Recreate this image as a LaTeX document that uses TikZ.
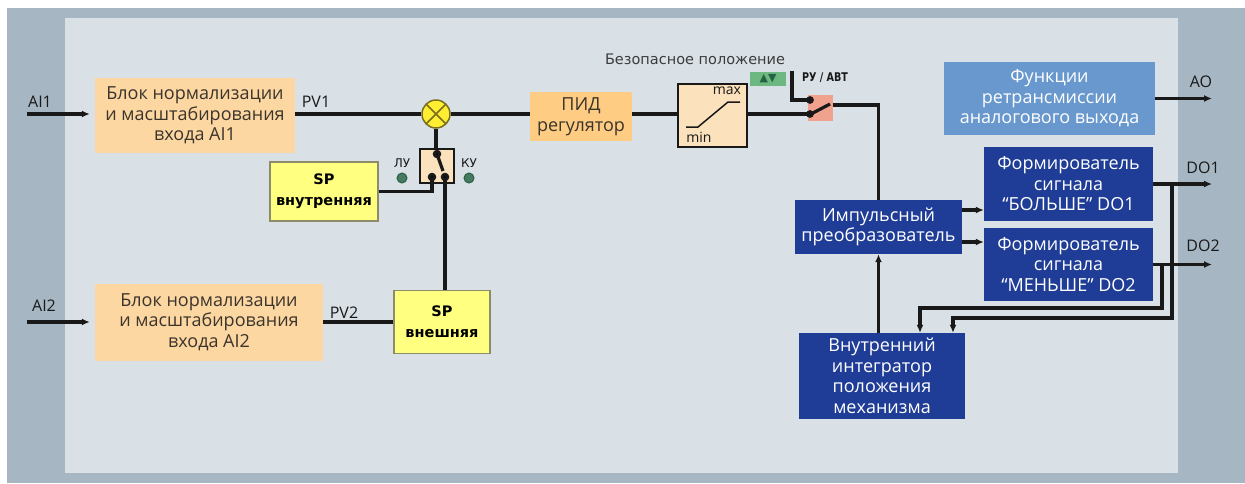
\documentclass[tikz,border=0pt]{standalone}
\usepackage{fontspec}
\setmainfont{Open Sans}
\newfontfamily\tahoma{DejaVu Sans}
\newfontfamily\condfont{DejaVu Sans}[FakeStretch=0.8]
\usetikzlibrary{arrows.meta,positioning}

\definecolor{frame}{RGB}{166,183,195}
\definecolor{panel}{RGB}{217,225,231}
\definecolor{peach}{RGB}{253,215,162}
\definecolor{pidorange}{RGB}{254,204,130}
\definecolor{beige}{RGB}{251,225,188}
\definecolor{spyellow}{RGB}{255,255,128}
\definecolor{spborder}{RGB}{140,140,105}
\definecolor{navy}{RGB}{31,61,150}
\definecolor{skyblue}{RGB}{104,152,206}
\definecolor{salmon}{RGB}{240,162,142}
\definecolor{ledgreen}{RGB}{38,98,68}
\definecolor{btngreen}{RGB}{108,184,128}
\definecolor{sumyellow}{RGB}{255,238,50}
\definecolor{sumborder}{RGB}{120,110,30}
\definecolor{wire}{RGB}{25,25,25}
\definecolor{boxtext}{RGB}{58,52,44}

\tikzset{
  wire/.style={draw=wire, line width=3.1pt},
  arr/.style={wire, -{Latex[length=8pt,width=7pt]}},
  normbox/.style={fill=peach, text=boxtext, align=center, inner sep=0pt,
    font={\fontsize{18}{20.5}\selectfont}},
  pidbox/.style={normbox, fill=pidorange},
  navybox/.style={fill=navy, text=white, align=center, inner sep=0pt,
    font={\fontsize{18}{20.5}\selectfont}},
  aobox/.style={navybox, fill=skyblue},
  spbox/.style={fill=spyellow, draw=spborder, line width=1.4pt, align=center,
    inner sep=0pt, font={\tahoma\bfseries\fontsize{14.5}{21}\selectfont}},
  limbox/.style={fill=beige, draw=wire, line width=1.5pt, inner sep=0pt},
  selbox/.style={fill=beige, draw=wire, line width=1.5pt, inner sep=0pt},
  rubox/.style={fill=salmon, inner sep=0pt},
  btn/.style={fill=btngreen, text=ledgreen, inner sep=0pt,
    font={\tahoma\fontsize{11}{11}\selectfont}},
  led/.style={circle, fill=ledgreen!85, draw=ledgreen, line width=1pt,
    minimum size=10, inner sep=0pt},
  sumnode/.style={circle, draw=sumborder, fill=sumyellow, line width=1.5pt,
    minimum size=28, inner sep=0pt,
    path picture={\draw[sumborder, line width=1.6pt]
      (path picture bounding box.north west) -- (path picture bounding box.south east)
      (path picture bounding box.north east) -- (path picture bounding box.south west);}},
  port/.style={text=wire, inner sep=0pt, font={\fontsize{16}{16}\selectfont}},
  tag/.style={text=wire, inner sep=0pt, font={\tahoma\fontsize{12}{12}\selectfont}},
  ramp/.style={draw=wire, line width=1.5pt},
}

\begin{document}
\begin{tikzpicture}[x=1pt,y=-1pt]
  % --- Frame and panel ---
  \useasboundingbox (0,0) rectangle (1245,483);
  \fill[white] (0,0) rectangle (1245,483);
  \fill[frame] (7,8) rectangle (1245,483);
  \fill[panel] (65,18) rectangle (1178,473);

  % --- Input blocks ---
  \node[normbox, minimum width=200, minimum height=75] (norm1) at (195,115.5)
    {Блок нормализации\\и масштабирования\\входа AI1};
  \node[normbox, minimum width=228, minimum height=77] (norm2) at (209,322)
    {Блок нормализации\\и масштабирования\\входа AI2};
  \coordinate (ai1) at (27,114);
  \coordinate (ai2) at (27,322);
  \node[port] (ai1lbl) at (40,102) {AI1};
  \node[port] (ai2lbl) at (44,306) {AI2};
  \node[port] (pv1lbl) at (316,102) {PV1};
  \node[port] (pv2lbl) at (344,313) {PV2};

  % --- Setpoint and selector ---
  \node[sumnode] (sum) at (436,114) {};
  \node[selbox, minimum size=34] (sel) at (437,166) {};
  \node[spbox, minimum width=108, minimum height=59] (spin) at (324,191.5)
    {SP\\внутренняя};
  \node[spbox, minimum width=96, minimum height=63] (spex) at (442,322)
    {SP\\внешняя};
  \node[led] (lu) at (402,178) {};
  \node[led] (ku) at (469,178) {};
  \node[tag, above=5pt of lu] (lulbl) {ЛУ};
  \node[tag, above=5pt of ku] (kulbl) {КУ};
  \coordinate (pv) at (437,154);
  \coordinate (lc) at (432,177);
  \coordinate (rc) at (445,177);

  % --- Controller chain ---
  \node[pidbox, minimum width=102, minimum height=49] (pid) at (581,116.5)
    {ПИД\\регулятор};
  \node[limbox, minimum width=69, minimum height=63] (lim) at (712.5,115.5) {};
  \node[text=wire, inner sep=0pt, font={\fontsize{14}{14}\selectfont}] (maxlbl) at (727,91) {max};
  \node[text=wire, inner sep=0pt, font={\fontsize{14}{14}\selectfont}] (minlbl) at (699,137) {min};
  \node[rubox, minimum width=25, minimum height=26] (ruavt) at (820,108) {};
  \node[btn, minimum width=36, minimum height=14] (safebtn) at (768,79) {▲▼};
  \coordinate (safe) at (792,71);
  \node[inner sep=0pt, text=wire!85, font={\tahoma\fontsize{14.5}{14.5}\selectfont}] (safelbl) at (695,59)
    {Безопасное положение};
  \node[inner sep=0pt, text=wire, font={\condfont\bfseries\fontsize{12}{12}\selectfont}] (rulbl) at (825,78)
    {РУ / АВТ};

  % --- Output blocks ---
  \node[aobox, minimum width=211, minimum height=73] (ao) at (1049.5,98.5)
    {Функции\\ретрансмиссии\\аналогового выхода};
  \node[navybox, minimum width=169, minimum height=74] (do1) at (1068.5,184)
    {Формирователь\\сигнала\\“БОЛЬШЕ” DO1};
  \node[navybox, minimum width=169, minimum height=73] (do2) at (1068.5,264.5)
    {Формирователь\\сигнала\\“МЕНЬШЕ” DO2};
  \node[navybox, minimum width=167, minimum height=54] (imp) at (878.5,227)
    {Импульсный\\преобразователь};
  \node[navybox, minimum width=166, minimum height=86] (integ) at (882,376)
    {Внутренний\\интегратор\\положения\\механизма};
  \coordinate (aoout) at (1212,98.5);
  \coordinate (do1out) at (1212,184);
  \coordinate (do2out) at (1212,264.5);
  \coordinate (tap1) at (1172,184);
  \coordinate (tap2) at (1162,264.5);
  \node[port] (aolbl) at (1201,82) {AO};
  \node[port] (do1lbl) at (1203,168) {DO1};
  \node[port] (do2lbl) at (1203,246) {DO2};

  % --- Wires ---
  \draw[arr, shorten >=5pt] (ai1) -- (ai1 -| norm1.west);
  \draw[arr, shorten >=5pt] (ai2) -- (norm2.west);
  \draw[wire] (norm1.east |- sum) -- (sum);
  \draw[wire] (sum) -- (sum -| pid.west);
  \draw[wire] (sum -| pid.east) -- (sum -| lim.west);
  \draw[wire] (sum -| lim.east) -- (sum -| ruavt.west);
  \draw[wire] (sum) -- (sum |- sel.north);
  \draw[wire] (lc) |- (spin.east);
  \draw[wire] (rc) -- (rc |- spex.north);
  \draw[wire] (norm2) -- (spex);
  \draw[wire] (safe) |- ([yshift=8pt]ruavt.west);
  \draw[wire] ([yshift=3pt]ruavt.east) -| (imp.north);
  \draw[arr] ([yshift=17pt]imp.east) -- ([yshift=17pt]imp.east -| do1.west);
  \draw[arr] ([yshift=-15pt]imp.east) -- ([yshift=-15pt]imp.east -| do2.west);
  \draw[arr] (ao.east) -- (aoout);
  \draw[arr] (do1.east) -- (do1out);
  \draw[arr] (do2.east) -- (do2out);
  \draw[arr] (tap1) -- ++(0,134) -| ([xshift=71pt]integ.north);
  \draw[arr] (tap2) -- ++(0,43.5) -| ([xshift=38pt]integ.north);
  \draw[arr] (imp.south |- integ.north) -- (imp.south);

  % --- Switch details ---
  \draw[wire, line width=3.2pt] (pv) -- (443,171);
  \fill[wire] (pv) circle (2.6pt) (lc) circle (2.6pt) (rc) circle (2.6pt);
  \fill[wire] (810,100) circle (2.2pt) (810,114) circle (2.2pt);
  \draw[wire, line width=3.2pt] (811,114) -- (830,104);
  \draw[ramp] (686,127) -- (698,127) -- (728,102) -- (740,102);
\end{tikzpicture}
\end{document}
